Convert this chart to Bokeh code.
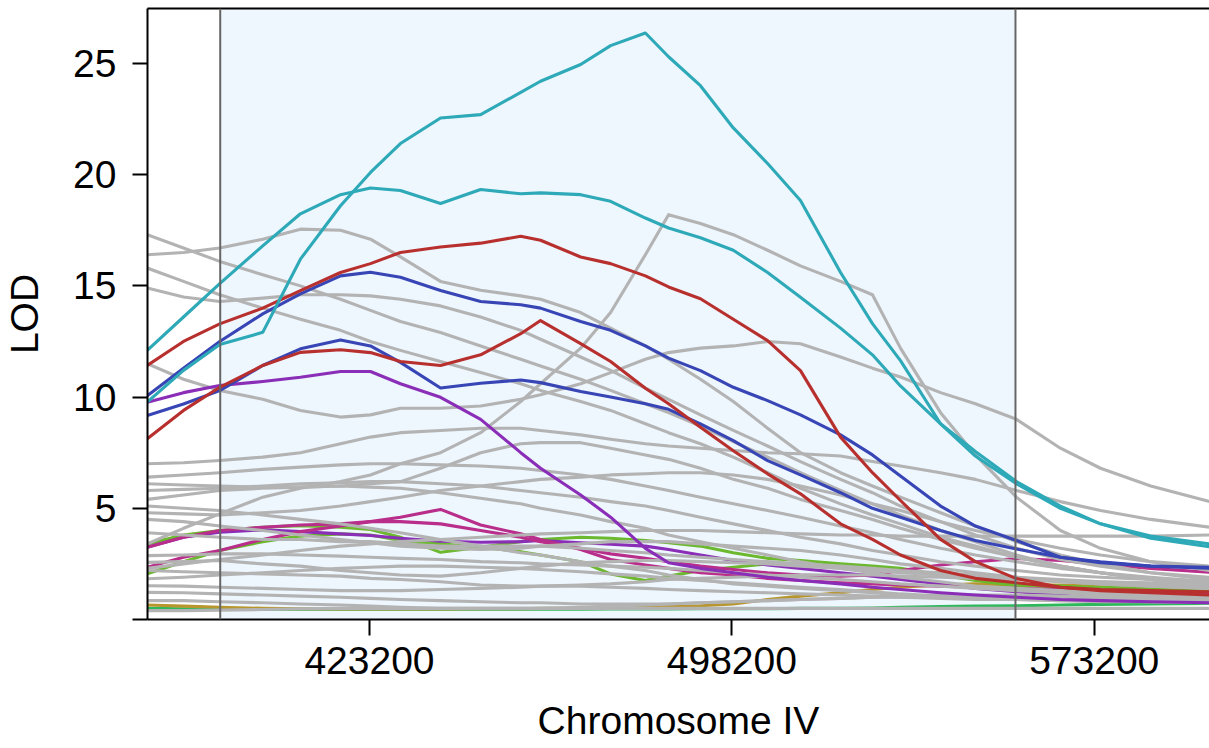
from bokeh.plotting import figure
from bokeh.models import Range1d, FixedTicker, LinearAxis, BoxAnnotation, Span, BasicTickFormatter
from bokeh.embed import file_html
from bokeh.resources import INLINE

# ---- data -------------------------------------------------------------
positions = [377200, 384700, 392200, 401100, 408900, 417200, 423400, 429600, 437900, 446200,
             454500, 458600, 466900, 473100, 480300, 485100, 491700, 498500, 505600, 512400,
             520700, 527300, 533100, 541400, 548600, 557100, 566200, 574500, 584900, 597100]

x_ticks = [423200, 498200, 573200]
y_ticks = [0, 5, 10, 15, 20, 25]
interval = [392300, 556900]

teal_a = [9.78, 11.2, 12.36, 12.91, 16.2, 18.6, 20.1, 21.4, 22.55, 22.7, 23.7, 24.2, 24.95, 25.8, 26.37,
          25.3, 24.0, 22.1, 20.5, 18.84, 15.6, 13.3, 11.64, 8.8, 7.55, 6.2, 5.1, 4.3, 3.65, 3.27]
teal_b = [12.1, 13.6, 15.1, 16.8, 18.24, 19.1, 19.4, 19.29, 18.7, 19.33, 19.14, 19.18, 19.1, 18.8, 18.05,
          17.6, 17.16, 16.6, 15.6, 14.49, 13.1, 11.9, 10.5, 8.8, 7.35, 6.1, 5.0, 4.3, 3.75, 3.4]
red_a = [11.42, 12.5, 13.29, 14.0, 14.79, 15.6, 16.0, 16.5, 16.75, 16.92, 17.23, 17.05, 16.3, 16.0, 15.45,
         14.95, 14.42, 13.5, 12.54, 11.19, 8.2, 6.6, 5.35, 3.6, 2.6, 1.84, 1.45, 1.3, 1.2, 1.1]
red_b = [8.12, 9.4, 10.44, 11.42, 12.01, 12.13, 12.0, 11.6, 11.42, 11.9, 12.85, 13.44, 12.4, 11.6, 10.4,
         9.7, 8.64, 7.59, 6.55, 5.65, 4.3, 3.6, 2.9, 2.2, 1.85, 1.65, 1.45, 1.35, 1.3, 1.25]
blue_a = [10.06, 11.3, 12.5, 13.74, 14.64, 15.45, 15.61, 15.39, 14.79, 14.3, 14.15, 14.0, 13.4, 13.0, 12.3,
          11.75, 11.19, 10.44, 9.84, 9.2, 8.3, 7.4, 6.45, 5.1, 4.2, 3.55, 2.8, 2.55, 2.4, 2.35]
blue_b = [9.17, 9.69, 10.29, 11.42, 12.17, 12.57, 12.3, 11.56, 10.41, 10.62, 10.77, 10.65, 10.25, 10.0, 9.7,
          9.45, 8.79, 8.04, 7.14, 6.5, 5.7, 5.0, 4.6, 4.0, 3.55, 3.17, 2.8, 2.6, 2.4, 2.3]
purple_a = [9.77, 10.2, 10.52, 10.7, 10.89, 11.15, 11.15, 10.6, 9.99, 9.0, 7.5, 6.8, 5.6, 4.6, 3.2,
            2.55, 2.3, 2.1, 1.9, 1.75, 1.6, 1.45, 1.35, 1.2, 1.1, 1.0, 0.9, 0.85, 0.8, 0.75]
purple_b = [3.25, 3.7, 3.92, 4.03, 3.95, 3.85, 3.78, 3.65, 3.52, 3.47, 3.5, 3.55, 3.45, 3.38, 3.3,
            3.15, 2.9, 2.65, 2.45, 2.3, 2.1, 1.95, 1.8, 1.6, 1.4, 1.25, 1.1, 0.95, 0.85, 0.8]
magenta_a = [2.35, 2.8, 3.1, 3.6, 3.95, 4.2, 4.4, 4.6, 4.95, 4.25, 3.85, 3.6, 3.15, 2.7, 2.45,
             2.3, 2.1, 2.0, 1.85, 1.75, 1.65, 1.6, 1.55, 1.5, 1.45, 1.4, 1.35, 1.3, 1.25, 1.2]
magenta_b = [3.25, 3.7, 4.0, 4.15, 4.25, 4.3, 4.4, 4.4, 4.3, 4.0, 3.7, 3.5, 3.2, 2.95, 2.75,
             2.6, 2.4, 2.25, 2.1, 2.0, 1.95, 2.0, 2.2, 2.45, 2.6, 2.74, 2.65, 2.5, 2.3, 2.12]
lime_a = [3.4, 3.8, 4.0, 4.15, 4.22, 4.15, 4.05, 3.7, 3.02, 3.25, 3.5, 3.6, 3.7, 3.65, 3.55,
          3.45, 3.3, 3.0, 2.75, 2.65, 2.5, 2.4, 2.3, 2.0, 1.75, 1.52, 1.48, 1.45, 1.4, 1.3]
lime_b = [2.05, 2.6, 3.1, 3.5, 3.75, 3.85, 3.8, 3.55, 3.4, 3.25, 3.05, 2.9, 2.6, 2.05, 1.75,
          1.95, 2.2, 2.35, 2.5, 2.45, 2.4, 2.35, 2.2, 2.0, 1.8, 1.6, 1.5, 1.4, 1.3, 1.2]
green = [0.5, 0.48, 0.47, 0.46, 0.46, 0.46, 0.46, 0.46, 0.46, 0.46, 0.46, 0.46, 0.46, 0.47, 0.47,
         0.47, 0.48, 0.48, 0.48, 0.5, 0.5, 0.52, 0.55, 0.58, 0.6, 0.62, 0.65, 0.68, 0.7, 0.72]
gold = [0.65, 0.6, 0.55, 0.5, 0.48, 0.47, 0.47, 0.47, 0.47, 0.48, 0.48, 0.5, 0.5, 0.52, 0.55,
        0.58, 0.62, 0.7, 0.9, 1.05, 1.2, 1.35, 1.45, 1.55, 1.6, 1.55, 1.55, 1.5, 1.45, 1.4]

gray_kink = [3.4, 4.1, 4.75, 5.5, 5.9, 6.2, 6.5, 7.0, 7.5, 8.4, 9.8, 10.6, 12.2, 13.8, 16.4,
             18.2, 17.8, 17.3, 16.6, 15.9, 15.2, 14.6, 12.2, 9.3, 7.4, 5.5, 4.0, 3.2, 2.6, 2.2]
gray_a = [17.3, 16.7, 16.1, 15.5, 15.0, 14.4, 13.9, 13.4, 12.9, 12.3, 11.7, 11.4, 10.8, 10.3, 9.7,
          9.3, 8.7, 8.0, 7.3, 6.6, 5.8, 5.2, 4.7, 4.0, 3.5, 2.9, 2.4, 2.1, 1.8, 1.5]
gray_b = [16.4, 16.5, 16.7, 17.1, 17.55, 17.5, 17.1, 16.3, 15.2, 14.8, 14.55, 14.4, 13.8, 13.1, 12.3,
          11.7, 10.8, 9.8, 8.6, 7.5, 6.6, 6.0, 5.5, 4.8, 4.2, 3.5, 2.9, 2.5, 2.1, 1.8]
gray_c = [15.8, 15.2, 14.6, 14.0, 13.5, 13.0, 12.5, 12.1, 11.6, 11.1, 10.6, 10.3, 9.8, 9.4, 8.8,
          8.4, 7.9, 7.3, 6.6, 5.9, 5.2, 4.7, 4.3, 3.7, 3.3, 2.8, 2.4, 2.1, 1.8, 1.6]
gray_d = [14.9, 14.5, 14.3, 14.45, 14.6, 14.6, 14.55, 14.4, 14.1, 13.6, 13.0, 12.6, 11.8, 11.2, 10.4,
          9.9, 9.2, 8.5, 7.8, 7.1, 6.3, 5.7, 5.1, 4.4, 3.8, 3.2, 2.7, 2.4, 2.1, 1.9]
gray_e = [11.5, 10.8, 10.3, 9.9, 9.4, 9.1, 9.2, 9.5, 9.5, 9.6, 9.9, 10.1, 10.6, 11.1, 11.7,
          12.0, 12.2, 12.3, 12.5, 12.4, 11.8, 11.3, 10.9, 10.2, 9.7, 9.0, 7.7, 6.8, 6.0, 5.3]
gray_f = [7.0, 7.05, 7.15, 7.3, 7.5, 7.9, 8.2, 8.4, 8.5, 8.6, 8.6, 8.5, 8.3, 8.1, 7.9,
          7.8, 7.7, 7.6, 7.5, 7.45, 7.35, 7.1, 6.9, 6.6, 6.3, 5.8, 5.3, 4.9, 4.5, 4.15]
gray_g = [6.4, 6.5, 6.6, 6.75, 6.85, 6.95, 7.0, 7.0, 6.95, 6.9, 6.8, 6.7, 6.5, 6.3, 6.0,
          5.8, 5.5, 5.2, 4.9, 4.6, 4.2, 3.9, 3.6, 3.2, 2.9, 2.6, 2.3, 2.1, 1.9, 1.7]
gray_h = [6.1, 6.05, 6.0, 5.95, 5.95, 6.0, 6.1, 6.2, 6.8, 7.5, 7.9, 7.95, 7.95, 7.7, 7.4,
          7.2, 6.8, 6.3, 5.9, 5.4, 4.9, 4.5, 4.1, 3.6, 3.2, 2.8, 2.4, 2.1, 1.8, 1.5]
gray_i = [5.8, 5.85, 5.9, 6.0, 6.1, 6.15, 6.2, 6.2, 6.1, 6.0, 5.8, 5.7, 5.5, 5.3, 5.1,
          4.9, 4.6, 4.3, 4.0, 3.7, 3.4, 3.1, 2.9, 2.6, 2.4, 2.2, 2.0, 1.9, 1.8, 1.7]
gray_j = [5.4, 5.6, 5.8, 5.9, 5.95, 6.0, 5.95, 5.9, 5.7, 5.45, 5.2, 5.0, 4.7, 4.4, 4.1,
          3.8, 3.5, 3.2, 2.9, 2.6, 2.3, 2.1, 1.9, 1.7, 1.5, 1.4, 1.3, 1.2, 1.1, 1.0]
gray_k = [5.1, 5.0, 4.9, 4.7, 4.5, 4.3, 4.1, 3.9, 3.6, 3.3, 3.0, 2.9, 2.6, 2.4, 2.2,
          2.0, 1.8, 1.6, 1.5, 1.4, 1.3, 1.2, 1.1, 1.0, 0.95, 0.9, 0.85, 0.8, 0.8, 0.75]
gray_l = [4.8, 4.75, 4.7, 4.8, 4.9, 5.1, 5.3, 5.5, 5.8, 6.0, 6.2, 6.3, 6.4, 6.5, 6.55,
          6.6, 6.6, 6.5, 6.3, 6.0, 5.6, 5.2, 4.9, 4.4, 4.0, 3.6, 3.2, 2.9, 2.6, 2.4]
gray_m = [4.5, 4.4, 4.2, 4.0, 3.8, 3.6, 3.45, 3.3, 3.2, 3.15, 3.2, 3.3, 3.4, 3.5, 3.5,
          3.5, 3.4, 3.3, 3.2, 3.1, 2.9, 2.7, 2.5, 2.3, 2.1, 1.9, 1.7, 1.6, 1.5, 1.4]
gray_n = [3.9, 3.8, 3.7, 3.6, 3.6, 3.5, 3.5, 3.4, 3.3, 3.3, 3.3, 3.3, 3.2, 3.1, 3.0,
          2.9, 2.8, 2.7, 2.6, 2.5, 2.4, 2.3, 2.2, 2.1, 2.0, 1.9, 1.8, 1.7, 1.6, 1.5]
gray_o = [2.3, 2.5, 2.7, 2.9, 3.1, 3.3, 3.4, 3.5, 3.6, 3.7, 3.8, 3.85, 3.9, 3.95, 4.0,
          4.0, 4.0, 3.95, 3.9, 3.85, 3.8, 3.8, 3.75, 3.75, 3.75, 3.75, 3.75, 3.75, 3.75, 3.8]
gray_p = [2.87, 2.9, 2.95, 2.95, 2.9, 2.85, 2.8, 2.75, 2.7, 2.6, 2.55, 2.5, 2.45, 2.4, 2.35,
          2.3, 2.2, 2.1, 2.0, 1.9, 1.8, 1.7, 1.6, 1.5, 1.4, 1.3, 1.2, 1.1, 1.0, 0.9]
gray_q = [2.57, 2.6, 2.65, 2.5, 2.4, 2.2, 2.1, 2.0, 1.95, 2.1, 2.3, 2.4, 2.55, 2.6, 2.65,
          2.65, 2.6, 2.55, 2.5, 2.4, 2.3, 2.2, 2.1, 2.0, 1.9, 1.8, 1.7, 1.6, 1.5, 1.4]
gray_r = [2.2, 2.15, 2.1, 2.05, 2.0, 1.95, 1.85, 1.8, 1.7, 1.55, 1.5, 1.5, 1.55, 1.6, 1.7,
          1.8, 1.85, 1.9, 1.95, 2.0, 2.0, 2.0, 1.95, 1.9, 1.85, 1.8, 1.75, 1.7, 1.65, 1.6]
gray_s = [1.83, 1.9, 2.0, 2.1, 2.2, 2.3, 2.35, 2.4, 2.4, 2.35, 2.3, 2.25, 2.15, 2.05, 1.95,
          1.85, 1.75, 1.65, 1.55, 1.45, 1.35, 1.25, 1.15, 1.05, 1.0, 0.95, 0.9, 0.85, 0.8, 0.75]
gray_t = [1.52, 1.5, 1.45, 1.4, 1.35, 1.3, 1.3, 1.3, 1.35, 1.4, 1.45, 1.5, 1.5, 1.45, 1.4,
          1.35, 1.3, 1.25, 1.2, 1.15, 1.1, 1.05, 1.0, 0.95, 0.9, 0.9, 0.85, 0.85, 0.8, 0.8]
gray_u = [1.22, 1.2, 1.15, 1.1, 1.05, 1.0, 0.95, 0.9, 0.85, 0.8, 0.75, 0.75, 0.7, 0.7, 0.7,
          0.7, 0.75, 0.8, 0.85, 0.9, 0.95, 1.0, 1.0, 1.0, 1.0, 0.95, 0.95, 0.9, 0.9, 0.85]
gray_v = [0.85, 0.85, 0.8, 0.75, 0.7, 0.65, 0.6, 0.55, 0.5, 0.5, 0.5, 0.5, 0.55, 0.6, 0.65,
          0.7, 0.75, 0.8, 0.85, 0.9, 0.95, 1.0, 1.05, 1.1, 1.1, 1.1, 1.05, 1.0, 1.0, 0.95]
gray_w = [0.4, 0.4, 0.42, 0.45, 0.48, 0.5, 0.5, 0.5, 0.5, 0.5, 0.5, 0.5, 0.5, 0.5, 0.5,
          0.5, 0.5, 0.5, 0.5, 0.5, 0.5, 0.5, 0.5, 0.5, 0.5, 0.5, 0.5, 0.5, 0.5, 0.5]

GRAY = "#B3B3B3"
TEAL = "#2EA9B8"
RED = "#B8302E"
BLUE = "#3845B5"
PURPLE = "#8A2EB8"
MAGENTA = "#B82E8A"
LIME = "#6CB82E"
GREEN = "#2EB85C"
GOLD = "#B8962E"

low_colored = [(green, GREEN), (gold, GOLD), (lime_b, LIME), (lime_a, LIME),
               (purple_b, PURPLE), (magenta_a, MAGENTA), (magenta_b, MAGENTA)]
grays = [gray_w, gray_v, gray_u, gray_t, gray_s, gray_r, gray_q, gray_p, gray_o, gray_n,
         gray_m, gray_l, gray_k, gray_j, gray_i, gray_h, gray_g, gray_f, gray_e, gray_d,
         gray_c, gray_b, gray_a, gray_kink]
high_colored = [(purple_a, PURPLE), (blue_b, BLUE), (blue_a, BLUE), (red_b, RED),
                (red_a, RED), (teal_b, TEAL), (teal_a, TEAL)]

# ---- figure -----------------------------------------------------------
FONT = "Liberation Sans"
p = figure(width=1209, height=745, output_backend="svg", toolbar_location=None,
           x_range=Range1d(377250, 597060), y_range=Range1d(0, 27.47),
           x_axis_label="Chromosome IV", y_axis_label="LOD",
           min_border_left=147, min_border_right=0, min_border_top=8, min_border_bottom=126)
p.grid.visible = False
p.outline_line_color = None
p.background_fill_color = "white"
p.border_fill_color = "white"

p.add_layout(BoxAnnotation(left=interval[0], right=interval[1], fill_color="#EEF6FE",
                           fill_alpha=1.0, line_color=None, level="underlay"))

LW = 3.1
for vals, col in low_colored:
    p.line(positions, vals, line_color=col, line_width=LW, line_join="round")
for vals in grays:
    p.line(positions, vals, line_color=GRAY, line_width=LW, line_join="round")
for vals, col in high_colored:
    p.line(positions, vals, line_color=col, line_width=LW, line_join="round")

for loc in interval:
    p.add_layout(Span(location=loc, dimension="height", line_color="#666666", line_width=2))

xa = p.xaxis[0]
xa.ticker = FixedTicker(ticks=x_ticks)
xa.formatter = BasicTickFormatter(use_scientific=False)
xa.major_tick_out = 16
xa.major_tick_in = 0
xa.minor_tick_out = 0
xa.minor_tick_in = 0
xa.major_tick_line_width = 2
xa.axis_line_width = 2
xa.major_label_text_font = FONT
xa.major_label_text_font_size = "39px"
xa.major_label_text_color = "black"
xa.major_label_standoff = 11
xa.axis_label_text_font = FONT
xa.axis_label_text_font_size = "39px"
xa.axis_label_text_font_style = "normal"
xa.axis_label_text_color = "black"
xa.axis_label_standoff = 22

ya = p.yaxis[0]
ya.ticker = FixedTicker(ticks=y_ticks)
ya.major_label_overrides = {0: ""}
ya.major_tick_out = 15
ya.major_tick_in = 0
ya.minor_tick_out = 0
ya.minor_tick_in = 0
ya.major_tick_line_width = 2
ya.axis_line_width = 2
ya.major_label_orientation = "horizontal"
ya.major_label_text_font = FONT
ya.major_label_text_font_size = "39px"
ya.major_label_text_color = "black"
ya.major_label_standoff = 16
ya.axis_label_text_font = FONT
ya.axis_label_text_font_size = "39px"
ya.axis_label_text_font_style = "normal"
ya.axis_label_text_color = "black"
ya.axis_label_standoff = 24

top = LinearAxis(ticker=FixedTicker(ticks=[]), major_tick_out=0, major_tick_in=0,
                 minor_tick_out=0, minor_tick_in=0, major_label_standoff=0,
                 axis_line_width=2, axis_line_color="black")
p.add_layout(top, "above")

open("out.html", "w").write(file_html(p, INLINE))
